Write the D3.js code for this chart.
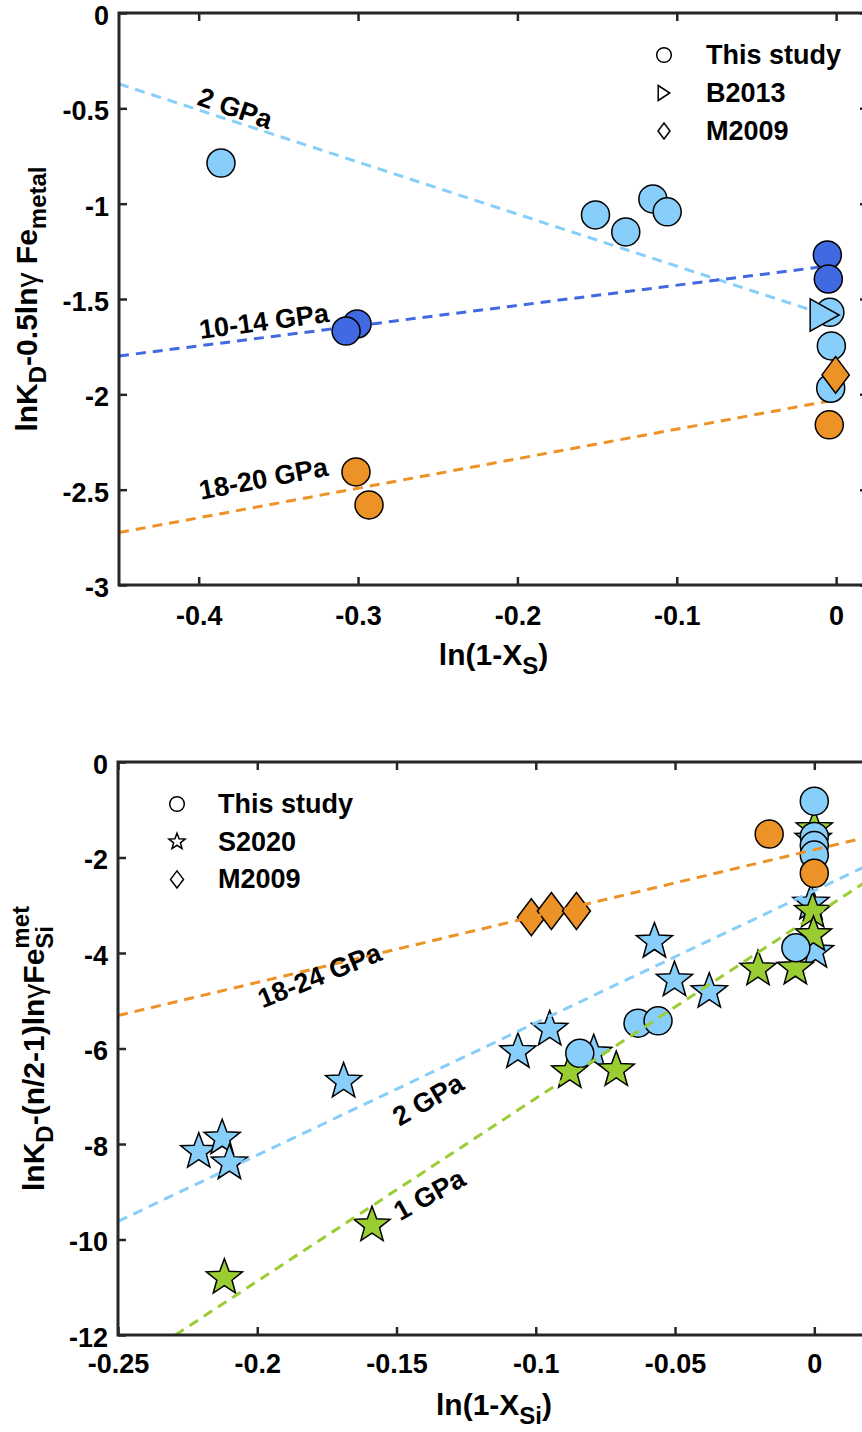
<!DOCTYPE html>
<html>
<head>
<meta charset="utf-8">
<script src="https://cdn.jsdelivr.net/npm/d3@7"></script>
<style>
  html, body { margin: 0; padding: 0; background: #fff; }
  svg { display: block; }
  text { font-family: "Liberation Sans", Arial, Helvetica, sans-serif; font-weight: bold; fill: #000; }
</style>
</head>
<body>
<svg id="fig" width="862" height="1432"></svg>
<script>
// ---------- Panel 1: sulfur, ln(1-X_S) ----------
const topXTicks = [-0.4, -0.3, -0.2, -0.1, 0];
const topYTicks = [0, -0.5, -1, -1.5, -2, -2.5, -3];

const top2GPa   = [[-0.386, -0.787], [-0.151, -1.059], [-0.132, -1.148], [-0.115, -0.975],
                   [-0.106, -1.043], [-0.0039, -1.570], [-0.003, -1.746], [-0.0034, -1.968]];
const top10to14 = [[-0.3006, -1.631], [-0.3075, -1.668], [-0.0055, -1.269], [-0.0049, -1.395]];
const top18to20 = [[-0.3013, -2.407], [-0.2931, -2.580], [-0.0043, -2.160]];
const topB2013  = [[-0.0072, -1.584]];
const topM2009  = [[-0.0003, -1.898]];

const topFit2GPa   = [[-0.45, -0.372], [-0.004, -1.590]];
const topFit10to14 = [[-0.45, -1.799], [-0.006, -1.328]];
const topFit18to20 = [[-0.45, -2.725], [-0.004, -2.034]];

const topLabels = [
  { text: "2 GPa",     x: -0.379,  y: -0.545, angle: 19 },
  { text: "10-14 GPa", x: -0.3583, y: -1.665, angle: -7.6 },
  { text: "18-20 GPa", x: -0.3583, y: -2.489, angle: -10.7 }
];
const topLegend = ["This study", "B2013", "M2009"];

// ---------- Panel 2: silicon, ln(1-X_Si) ----------
const botXTicks = [-0.25, -0.2, -0.15, -0.1, -0.05, 0];
const botYTicks = [0, -2, -4, -6, -8, -10, -12];

const botCircles2GPa = [[0, -0.82], [0, -1.56], [0, -1.75], [0, -1.95], [-0.0066, -3.89],
                        [-0.0633, -5.47], [-0.0561, -5.42], [-0.0842, -6.10]];
const botCirclesHP   = [[-0.0162, -1.51], [0, -2.33]];
const botDiamondsHP  = [[-0.1016, -3.25], [-0.0944, -3.12], [-0.0854, -3.12]];
const botStars2GPa   = [[-0.0004, -1.62], [-0.0012, -2.96], [0.0004, -3.97], [-0.0574, -3.76],
                        [-0.0502, -4.57], [-0.0377, -4.81], [-0.1064, -6.07], [-0.095, -5.60],
                        [-0.0792, -6.10], [-0.169, -6.69], [-0.221, -8.16], [-0.2126, -7.88],
                        [-0.21, -8.40]];
const botStars1GPa   = [[0, -1.40], [-0.0006, -3.13], [-0.0003, -3.62], [-0.0068, -4.32],
                        [-0.0202, -4.34], [-0.0878, -6.49], [-0.0711, -6.45], [-0.1588, -9.70],
                        [-0.2118, -10.80]];

const botFitHP   = [[-0.25, -5.31], [0.02, -1.56]];
const botFit2GPa = [[-0.25, -9.62], [0.02, -2.14]];
const botFit1GPa = [[-0.2294, -12], [0.02, -2.45]];

const botLabels = [
  { text: "18-24 GPa", x: -0.1764, y: -4.65, angle: -22 },
  { text: "2 GPa",     x: -0.137,  y: -7.24, angle: -30 },
  { text: "1 GPa",     x: -0.1366, y: -9.23, angle: -29 }
];
const botLegend = ["This study", "S2020", "M2009"];

// ---------- styling ----------
const C = { light: "#87CEFA", royal: "#4169E1", orange: "#EC9226", green: "#9ACD32", axis: "#262626" };
const FS = 27;      // tick labels, legend, annotations
const FT = 30;      // axis titles

const svg = d3.select("#fig");
svg.append("rect").attr("width", 862).attr("height", 1432).attr("fill", "#fff");

// marker shapes
function starPath(R, ratio) {
  const p = d3.path();
  for (let i = 0; i < 10; i++) {
    const a = -Math.PI / 2 + i * Math.PI / 5;
    const r = i % 2 ? R * ratio : R;
    if (i === 0) p.moveTo(r * Math.cos(a), r * Math.sin(a));
    else p.lineTo(r * Math.cos(a), r * Math.sin(a));
  }
  p.closePath();
  return p.toString();
}
function diamondPath(hw, hh) {
  const p = d3.path();
  p.moveTo(0, -hh); p.lineTo(hw, 0); p.lineTo(0, hh); p.lineTo(-hw, 0); p.closePath();
  return p.toString();
}
function triRightPath(hw, hh) {
  const p = d3.path();
  p.moveTo(-hw, -hh); p.lineTo(hw, 0); p.lineTo(-hw, hh); p.closePath();
  return p.toString();
}

// lays out a run of text pieces (with sub/superscripts) centred on the origin
function richText(parent, segs, size) {
  const g = parent.append("g");
  let x = 0, hold = null;
  segs.forEach(s => {
    const start = hold ? hold.x : x;
    const t = g.append("text")
      .attr("x", start)
      .attr("y", (s.shift || 0) * size)
      .style("font-size", (size * (s.scale || 1)) + "px")
      .text(s.t);
    if (s.normal) t.style("font-weight", "normal");
    const w = t.node().getComputedTextLength();
    if (s.stack) hold = { x: start, w };
    else if (hold) { x = start + Math.max(w, hold.w); hold = null; }
    else x = start + w;
  });
  g.attr("transform", `translate(${-x / 2},0)`);
  return g;
}

function panel(cfg) {
  const { box, xDom, yDom, xTicks, yTicks } = cfg;
  const x = d3.scaleLinear().domain(xDom).range([box.left, box.right]);
  const y = d3.scaleLinear().domain(yDom).range([box.bottom, box.top]);
  const g = svg.append("g");

  const clipId = "clip" + cfg.id;
  svg.append("clipPath").attr("id", clipId)
    .append("rect").attr("x", box.left).attr("y", box.top)
    .attr("width", box.right - box.left).attr("height", box.bottom - box.top);

  const fmt = d => String(+d.toFixed(2));
  const styleAxis = (sel, showText) => {
    sel.attr("font-size", null).attr("font-family", null);
    sel.select(".domain").remove();
    sel.selectAll(".tick line").attr("stroke", C.axis).attr("stroke-width", 2.5);
    if (showText) sel.selectAll("text").style("font-size", FS + "px").attr("fill", "#000");
    else sel.selectAll("text").remove();
  };
  g.append("g").attr("transform", `translate(0,${box.bottom})`)
    .call(d3.axisBottom(x).tickValues(xTicks).tickFormat(fmt).tickSize(-8).tickPadding(cfg.xPad))
    .call(s => styleAxis(s, true));
  g.append("g").attr("transform", `translate(0,${box.top})`)
    .call(d3.axisTop(x).tickValues(xTicks).tickSize(-8))
    .call(s => styleAxis(s, false));
  g.append("g").attr("transform", `translate(${box.left},0)`)
    .call(d3.axisLeft(y).tickValues(yTicks).tickFormat(fmt).tickSize(-8).tickPadding(10))
    .call(s => styleAxis(s, true))
    .call(s => s.selectAll("text").attr("dy", "0.42em"));
  g.append("g").attr("transform", `translate(${box.right},0)`)
    .call(d3.axisRight(y).tickValues(yTicks).tickSize(-8))
    .call(s => styleAxis(s, false));

  const plot = g.append("g").attr("clip-path", `url(#${clipId})`);
  const line = d3.line().x(d => x(d[0])).y(d => y(d[1]));
  const drawFits = () => {
    const layer = plot.append("g");
    cfg.fits.forEach(f => {
      layer.append("path").datum(f.data).attr("d", line)
        .attr("fill", "none").attr("stroke", f.color).attr("stroke-width", 3)
        .attr("stroke-dasharray", "10,7");
    });
  };

  if (!cfg.linesOnTop) drawFits();
  const markG = plot.append("g");
  cfg.series.forEach(s => {
    markG.append("g").selectAll("path").data(s.data).join("path")
      .attr("d", s.path)
      .attr("transform", d => `translate(${x(d[0])},${y(d[1])})`)
      .attr("fill", s.color).attr("stroke", "#000").attr("stroke-width", 1.5);
  });
  if (cfg.linesOnTop) drawFits();

  // line annotations
  cfg.labels.forEach(l => {
    g.append("text")
      .attr("transform", `translate(${x(l.x)},${y(l.y)}) rotate(${l.angle})`)
      .attr("text-anchor", "middle")
      .style("font-size", FS + "px")
      .text(l.text);
  });

  // legend (outline markers)
  cfg.legend.items.forEach((name, i) => {
    const ly = cfg.legend.y + i * cfg.legend.dy;
    g.append("path").attr("d", cfg.legend.shapes[i])
      .attr("transform", `translate(${cfg.legend.mx},${ly - 9})`)
      .attr("fill", "#fff").attr("stroke", "#000").attr("stroke-width", 1.5);
    g.append("text").attr("x", cfg.legend.tx).attr("y", ly)
      .style("font-size", FS + "px").text(name);
  });

  // frame
  g.append("rect").attr("x", box.left).attr("y", box.top)
    .attr("width", box.right - box.left).attr("height", box.bottom - box.top)
    .attr("fill", "none").attr("stroke", C.axis).attr("stroke-width", 3);

  // axis titles
  const xt = g.append("g").attr("transform", `translate(${(box.left + box.right) / 2},${cfg.xTitleY})`);
  richText(xt, cfg.xTitle, FT);
  const yt = g.append("g").attr("transform", `translate(${cfg.yTitleX},${(box.top + box.bottom) / 2}) rotate(-90)`);
  richText(yt, cfg.yTitle, FT);
}

const circle = d3.symbol().type(d3.symbolCircle).size(Math.PI * 14 * 14)();
const legCircle = d3.symbol().type(d3.symbolCircle).size(Math.PI * 7.3 * 7.3)();

panel({
  id: "S",
  box: { left: 119, right: 868, top: 13, bottom: 585 },
  xDom: [-0.45, 0.02], yDom: [-3, 0],
  xTicks: topXTicks, yTicks: topYTicks, xPad: 21,
  fits: [
    { data: topFit2GPa, color: C.light },
    { data: topFit10to14, color: C.royal },
    { data: topFit18to20, color: C.orange }
  ],
  linesOnTop: false,
  series: [
    { data: top2GPa, color: C.light, path: circle },
    { data: top10to14, color: C.royal, path: circle },
    { data: top18to20, color: C.orange, path: circle },
    { data: topB2013, color: C.light, path: triRightPath(14.5, 16.2) },
    { data: topM2009, color: C.orange, path: diamondPath(13.7, 18.3) }
  ],
  labels: topLabels,
  legend: {
    items: topLegend, mx: 664, tx: 706, y: 64, dy: 38,
    shapes: [legCircle, triRightPath(5.8, 7.5), diamondPath(6, 8)]
  },
  xTitleY: 665,
  xTitle: [{ t: "ln(1-X" }, { t: "S", scale: 0.8, shift: 0.3 }, { t: ")" }],
  yTitleX: 37,
  yTitle: [{ t: "lnK" }, { t: "D", scale: 0.8, shift: 0.3 }, { t: "-0.5ln" },
           { t: "\u03B3", normal: true }, { t: "\u00A0Fe" }, { t: "metal", scale: 0.8, shift: 0.3 }]
});

panel({
  id: "Si",
  box: { left: 118, right: 870, top: 762, bottom: 1335 },
  xDom: [-0.25, 0.02], yDom: [-12, 0],
  xTicks: botXTicks, yTicks: botYTicks, xPad: 19,
  fits: [
    { data: botFitHP, color: C.orange },
    { data: botFit2GPa, color: C.light },
    { data: botFit1GPa, color: C.green }
  ],
  linesOnTop: true,
  series: [
    { data: botStars2GPa, color: C.light, path: starPath(19, 0.42) },
    { data: botStars1GPa, color: C.green, path: starPath(19, 0.42) },
    { data: botDiamondsHP, color: C.orange, path: diamondPath(14, 18.5) },
    { data: botCircles2GPa, color: C.light, path: circle },
    { data: botCirclesHP, color: C.orange, path: circle }
  ],
  labels: botLabels,
  legend: {
    items: botLegend, mx: 177, tx: 218, y: 813, dy: 37.7,
    shapes: [legCircle, starPath(8.5, 0.42), diamondPath(6.5, 8.5)]
  },
  xTitleY: 1415,
  xTitle: [{ t: "ln(1-X" }, { t: "Si", scale: 0.8, shift: 0.3 }, { t: ")" }],
  yTitleX: 44,
  yTitle: [{ t: "lnK" }, { t: "D", scale: 0.8, shift: 0.3 }, { t: "-(n/2-1)ln" },
           { t: "\u03B3", normal: true }, { t: "Fe" },
           { t: "met", scale: 0.8, shift: -0.5, stack: true },
           { t: "Si", scale: 0.8, shift: 0.3 }]
});
</script>
</body>
</html>
